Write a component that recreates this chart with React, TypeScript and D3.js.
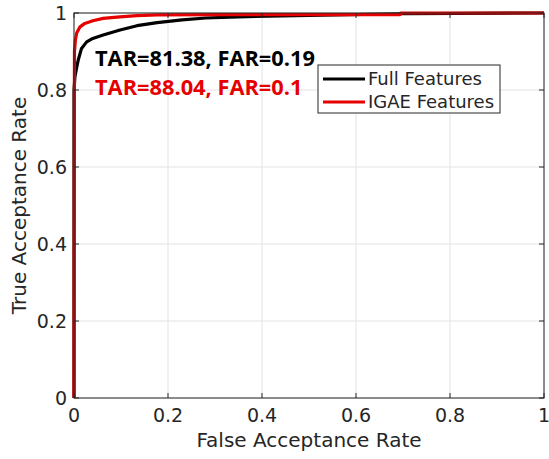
import React from 'react'
import * as d3 from 'd3'

// ROC points (FAR, TAR)
const fullFar = [0, 0, 0.002, 0.006, 0.009, 0.016, 0.027, 0.04, 0.062, 0.098, 0.134, 0.177, 0.23, 0.28, 0.35, 0.5, 0.7, 1]
const fullTar = [0, 0.8, 0.835, 0.86, 0.878, 0.908, 0.925, 0.934, 0.943, 0.956, 0.967, 0.975, 0.982, 0.987, 0.99, 0.994, 0.998, 1]

const igaeFar = [0, 0.001, 0.003, 0.0057, 0.0128, 0.023, 0.04, 0.062, 0.098, 0.134, 0.177, 0.3, 0.5, 0.694, 0.695, 1]
const igaeTar = [0, 0.9, 0.93, 0.948, 0.964, 0.973, 0.98, 0.986, 0.99, 0.993, 0.995, 0.996, 0.996, 0.996, 1, 1]

const tickValues = [0, 0.2, 0.4, 0.6, 0.8, 1]
const seriesNames = ['Full Features', 'IGAE Features']
const seriesColors = ['#000000', '#e60000']
const notes = ['TAR=81.38, FAR=0.19', 'TAR=88.04, FAR=0.1']

const W = 549
const H = 459
const margin = { left: 74, right: 5, top: 13, bottom: 61 }
const axisColor = '#262626'
const tickFont = 'DejaVu Sans, sans-serif'

export default function App() {
  const x = d3.scaleLinear().domain([0, 1]).range([margin.left, W - margin.right])
  const y = d3.scaleLinear().domain([0, 1]).range([H - margin.bottom, margin.top])

  const line = d3.line<[number, number]>()
    .x(d => x(d[0]))
    .y(d => y(d[1]))

  const fullPts = fullFar.map((f, i) => [f, fullTar[i]] as [number, number])
  const igaePts = igaeFar.map((f, i) => [f, igaeTar[i]] as [number, number])

  const [x0, x1] = x.range()
  const [y0, y1] = y.range()

  return (
    <svg width={W} height={H} style={{ position: 'absolute', left: 0, top: 0, background: '#fff' }}>
      <rect x={0} y={0} width={W} height={H} fill="#fff" />
      {/* grid */}
      {tickValues.map(t => (
        <g key={'g' + t}>
          <line x1={x(t)} x2={x(t)} y1={y1} y2={y0} stroke="#e3e3e3" strokeWidth={1} />
          <line x1={x0} x2={x1} y1={y(t)} y2={y(t)} stroke="#e3e3e3" strokeWidth={1} />
        </g>
      ))}
      {/* curves */}
      <path d={line(fullPts) ?? ''} fill="none" stroke={seriesColors[0]} strokeWidth={3.2} strokeLinejoin="round" />
      <path d={line(igaePts) ?? ''} fill="none" stroke={seriesColors[1]} strokeWidth={3.2} strokeLinejoin="round" />
      {/* axes box */}
      <rect x={x0} y={y1} width={x1 - x0} height={y0 - y1} fill="none" stroke={axisColor} strokeWidth={1} />
      {tickValues.map(t => (
        <g key={'t' + t}>
          <line x1={x(t)} x2={x(t)} y1={y0} y2={y0 - 5} stroke={axisColor} />
          <line x1={x(t)} x2={x(t)} y1={y1} y2={y1 + 5} stroke={axisColor} />
          <line x1={x0} x2={x0 + 5} y1={y(t)} y2={y(t)} stroke={axisColor} />
          <line x1={x1} x2={x1 - 5} y1={y(t)} y2={y(t)} stroke={axisColor} />
          <text x={x(t)} y={y0 + 24} textAnchor="middle" fontFamily={tickFont} fontSize={19} fill={axisColor}>{String(t)}</text>
          <text x={x0 - 7} y={y(t) + 7} textAnchor="end" fontFamily={tickFont} fontSize={19} fill={axisColor}>{String(t)}</text>
        </g>
      ))}
      <text x={(x0 + x1) / 2} y={447} textAnchor="middle" fontFamily={tickFont} fontSize={20} fill={axisColor}>False Acceptance Rate</text>
      <text transform={`translate(26,${(y0 + y1) / 2}) rotate(-90)`} textAnchor="middle" fontFamily={tickFont} fontSize={20} fill={axisColor}>True Acceptance Rate</text>
      {/* annotations */}
      <text x={95} y={66} fontFamily="Open Sans, sans-serif" fontWeight="bold" fontSize={21.8} fill={seriesColors[0]}>{notes[0]}</text>
      <text x={95} y={95} fontFamily="Open Sans, sans-serif" fontWeight="bold" fontSize={21.8} fill={seriesColors[1]}>{notes[1]}</text>
      {/* legend */}
      <rect x={318} y={65} width={182} height={48} fill="#fff" stroke={axisColor} strokeWidth={1} />
      {seriesNames.map((n, i) => (
        <g key={n}>
          <line x1={323} x2={365} y1={79 + i * 23} y2={79 + i * 23} stroke={seriesColors[i]} strokeWidth={3.2} />
          <text x={368} y={85 + i * 23} fontFamily={tickFont} fontSize={18} fill={axisColor}>{n}</text>
        </g>
      ))}
    </svg>
  )
}
